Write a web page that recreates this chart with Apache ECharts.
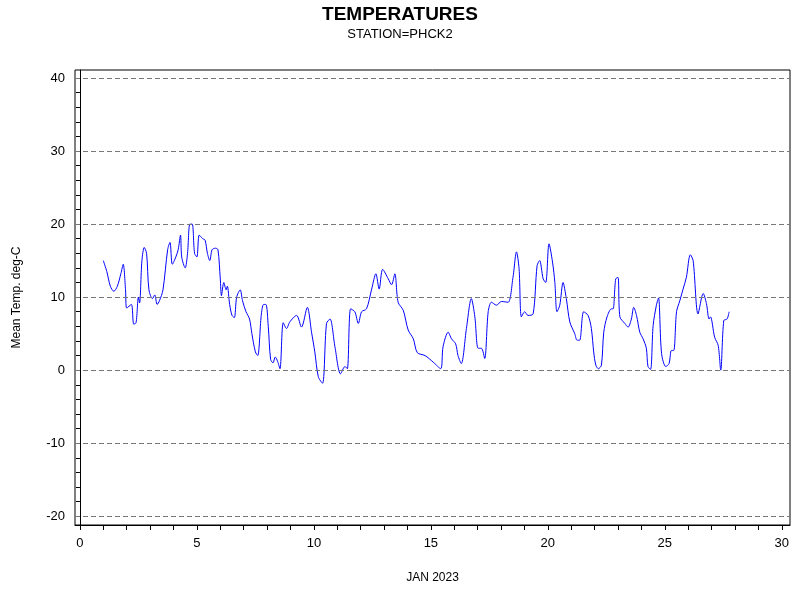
<!DOCTYPE html>
<html>
<head>
<meta charset="utf-8">
<script src="https://cdn.jsdelivr.net/npm/echarts@6/dist/echarts.min.js"></script>
</head>
<body style="margin:0">
<div id="main" style="width:800px;height:600px"></div>
<script>
// day of month, mean temperature (deg C)
var days = [1.0,1.15,1.3,1.45,1.6,1.75,1.85,1.95,2.0,2.2,2.3,2.4,2.5,2.55,2.65,2.75,2.85,2.95,3.1,3.2,3.3,3.4,3.55,3.75,3.85,3.95,4.1,4.2,4.3,4.35,4.5,4.6,4.7,4.8,4.9,5.0,5.1,5.25,5.35,5.45,5.55,5.65,5.8,5.9,6.0,6.05,6.15,6.25,6.3,6.4,6.5,6.6,6.7,6.85,6.95,7.1,7.25,7.35,7.5,7.6,7.75,7.85,7.95,8.05,8.15,8.25,8.35,8.45,8.55,
  8.69,8.83,8.97,9.26,9.47,9.72,9.9,10.04,10.19,10.37,10.54,10.69,10.9,11.14,11.33,11.43,11.57,11.75,11.9,12.04,12.25,12.47,12.65,12.79,12.94,13.18,13.32,13.46,13.6,13.82,14.03,14.25,14.42,14.75,15.1,15.42,
  15.52,15.74,15.88,16.06,16.16,16.3,16.52,16.73,16.88,17.02,17.16,17.3,17.45,17.59,17.8,18.02,18.3,18.51,18.66,18.77,18.87,19.01,19.15,19.37,19.54,19.65,19.8,19.91,20.05,20.2,20.3,20.39,20.51,20.65,20.79,20.94,21.15,21.25,21.36,21.53,21.72,21.86,21.96,22.05,22.16,22.29,22.39,22.53,22.72,22.79,22.9,23.0,
  23.08,23.29,23.43,23.57,23.67,23.79,23.93,24.07,24.21,24.28,24.39,24.5,24.64,24.73,24.86,25.04,25.18,25.28,25.38,25.5,25.64,25.78,25.92,26.09,26.21,26.42,26.64,26.78,26.89,26.95,27.13,27.28,27.39,27.52,27.66,27.75];
var temps = [15,13.5,11.5,10.8,11.5,13.2,14.5,11,8.5,9,6.3,6.5,10,9.2,15,16.8,16,11,9.8,10.3,9,9.5,11,16.5,17.5,14.5,15.5,16.5,18.5,15.5,14,16,20,20,16,15.5,18.5,18,17.8,16,15,16.5,16.7,16.5,12.5,10.2,12,11,11.5,9,7.5,7.2,10,11,9.5,8,7,5,2.5,2,7.5,9,9,6,1.5,1,1.8,1.2,0.2,
  6.5,5.7,6.6,7.5,5.9,8.6,5.2,2.5,-0.9,-1.8,6.4,7,3.2,-0.5,0.5,0.2,8.4,8,6.4,8,8.4,11.1,13.2,11.1,13.8,12.5,11.7,13.2,9.3,8.2,5.5,4.3,2.4,2,1.1,0.2,
  3.2,5.2,4.3,3.6,2,0.9,5.7,9.8,7.3,3,3,1.6,8,9.3,8.9,9.4,9.3,12.7,16.2,13.9,7.3,8,7.5,7.7,14.3,15,12.5,12,17.3,14.8,12,8,8.9,12,9.8,6.6,5,4.1,4.1,8,7.5,5.7,2.5,0.7,0.2,0.7,5.2,7.3,8.4,8.4,12.5,12.7,
  7.3,6.4,5.9,7,8.6,7.5,5.2,4.3,3,0.5,0.1,6.1,8.9,9.9,2.3,0.5,0.9,2.7,2.7,8,9.5,11.1,12.7,15.8,15,7.7,10.5,9.1,7,7.3,4.5,3.4,0,6.8,7,8];
var xTickLabels = [0,5,10,15,20,25,30];
var yTickLabels = [-20,-10,0,10,20,30,40];

var points = days.map(function (d, i) { return [d, temps[i]]; });
var xMinor = [], yMinor = [];
for (var i = 0; i <= 30; i++) xMinor.push(i);
for (var j = -20; j <= 40; j += 2) yMinor.push(j);

var myChart = echarts.init(document.getElementById('main'));
var option = {
    title: {
        text: 'TEMPERATURES',
        subtext: 'STATION=PHCK2',
        left: 'center',
        top: 0,
        itemGap: 4,
        textStyle: { fontFamily: 'Liberation Sans', fontWeight: 'bold', fontSize: 19, color: '#000' },
        subtextStyle: { fontFamily: 'Liberation Sans', fontSize: 13, color: '#000' }
    },
    grid: { left: 75, right: 10, top: 70, bottom: 75 },
    xAxis: {
        type: 'value', min: -0.21, max: 30.35,
        name: 'JAN 2023', nameLocation: 'middle', nameGap: 47,
        nameTextStyle: { fontFamily: 'Liberation Sans', fontSize: 12, color: '#000' },
        axisLine: { onZero: false, lineStyle: { color: '#000' } },
        axisTick: { inside: false, customValues: xMinor, length: 5, lineStyle: { color: '#000' } },
        axisLabel: { customValues: xTickLabels, color: '#000', fontFamily: 'Liberation Sans', fontSize: 13, margin: 12 },
        splitLine: { show: false }
    },
    yAxis: {
        type: 'value', min: -21.2, max: 41.1,
        name: 'Mean Temp. deg-C', nameLocation: 'middle', nameGap: 52,
        nameTextStyle: { fontFamily: 'Liberation Sans', fontSize: 12, color: '#000' },
        axisLine: { show: true, lineStyle: { color: '#000' } },
        axisTick: { inside: false, customValues: yMinor, length: 4, lineStyle: { color: '#000' } },
        axisLabel: { customValues: yTickLabels, color: '#000', fontFamily: 'Liberation Sans', fontSize: 13, margin: 10 },
        splitLine: { show: false }
    },
    series: [{
        type: 'line',
        data: points,
        showSymbol: false,
        smooth: 0.3,
        lineStyle: { color: '#0000ff', width: 1 },
        markLine: {
            silent: true, symbol: 'none', label: { show: false },
            lineStyle: { type: [5, 3], color: '#777', width: 1 },
            data: yTickLabels.map(function (v) { return { yAxis: v }; })
        }
    }],
    graphic: [{
        type: 'rect', shape: { x: 75, y: 70, width: 715, height: 455 },
        style: { fill: 'none', stroke: '#000', lineWidth: 1 }, silent: true
    }]
};
myChart.setOption(option);
</script>
</body>
</html>
